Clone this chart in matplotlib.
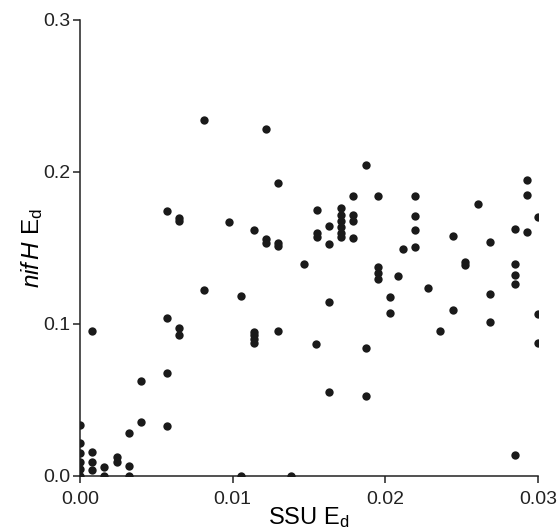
import numpy as np
import matplotlib
matplotlib.use('Agg')
from matplotlib import pyplot as plt

plt.rcParams['font.family'] = ['Liberation Sans', 'DejaVu Sans']
plt.rcParams['mathtext.fontset'] = 'custom'
plt.rcParams['mathtext.rm'] = 'Liberation Sans'
plt.rcParams['mathtext.it'] = 'Liberation Sans:italic'

# SSU E_d (x) and nifH E_d (y)
ssu_ed = [
    0.00811, 0.0122, 0.0130, 0.00568, 0.0065, 0.0065, 0.00975, 0.0155, 0.0114, 0.0122,
    0.0122, 0.0130, 0.0130, 0.0155, 0.0155, 0.01464, 0.00811, 0.01056, 0.01873, 0.02931,
    0.02931, 0.0179, 0.01952, 0.02197, 0.0261,
    0.01707, 0.01707, 0.01707, 0.01707, 0.01707, 0.01707,
    0.0179, 0.0179, 0.01628, 0.0179, 0.02197, 0.02197, 0.02197, 0.01628, 0.02116,
    0.02441, 0.02686, 0.0285, 0.02931, 0.0300, 0.02522, 0.02522,
    0.01952, 0.01952, 0.01952, 0.02083, 0.0285, 0.0285, 0.0285,
    0.02278, 0.02686, 0.02033, 0.01628, 0.02033, 0.02441, 0.02686, 0.02361,
    0.0300, 0.0300, 0.01545, 0.01873, 0.01628, 0.01873, 0.0285,
    0.00568, 0.00079, 0.0065, 0.0065, 0.0114, 0.0114, 0.0114, 0.0114, 0.0130,
    0.00568, 0.00402, 0.00402, 0.00568, 0.00321,
    0.0, 0.0, 0.0, 0.0, 0.0, 0.0, 0.00079, 0.00079, 0.00079, 0.0016, 0.0016,
    0.00243, 0.00243, 0.00321, 0.00321, 0.01056, 0.01382,
]
nifh_ed = [
    0.234, 0.228, 0.193, 0.1745, 0.170, 0.168, 0.167, 0.175, 0.1616, 0.156,
    0.153, 0.153, 0.151, 0.160, 0.157, 0.1397, 0.1224, 0.1184, 0.2044, 0.1947,
    0.1847, 0.1842, 0.1842, 0.1842, 0.1787,
    0.176, 0.172, 0.168, 0.164, 0.160, 0.157,
    0.1717, 0.168, 0.1647, 0.1566, 0.1713, 0.1616, 0.1507, 0.1524, 0.1493,
    0.1579, 0.1542, 0.1627, 0.1605, 0.1704, 0.141, 0.139,
    0.1377, 0.1338, 0.1296, 0.1318, 0.1397, 0.1322, 0.1261,
    0.1239, 0.1199, 0.1178, 0.1147, 0.1075, 0.109, 0.1015, 0.0952,
    0.1064, 0.0873, 0.0866, 0.084, 0.0551, 0.0526, 0.0138,
    0.1037, 0.0954, 0.0971, 0.0928, 0.095, 0.0925, 0.090, 0.0875, 0.0954,
    0.0675, 0.0625, 0.0355, 0.0331, 0.0285,
    0.0336, 0.0215, 0.0149, 0.0094, 0.0044, 0.0, 0.0160, 0.0094, 0.0039, 0.0061, 0.0,
    0.0127, 0.0094, 0.0066, 0.0, 0.0, 0.0,
]

fig = plt.figure(figsize=(5.58, 5.30), dpi=100)
ax = fig.add_axes([80/558, 54/530, 458/558, 456/530])

ax.scatter(ssu_ed, nifh_ed, s=36, color='#1a1a1a', linewidths=0, zorder=3)

ax.set_xlim(0, 0.03)
ax.set_ylim(0, 0.3)
ax.set_xticks([0.0, 0.01, 0.02, 0.03])
ax.set_xticklabels(['0.00', '0.01', '0.02', '0.03'])
ax.set_yticks([0.0, 0.1, 0.2, 0.3])
ax.set_yticklabels(['0.0', '0.1', '0.2', '0.3'])

for s in ['top', 'right']:
    ax.spines[s].set_visible(False)
for s in ['left', 'bottom']:
    ax.spines[s].set_linewidth(1.1)
    ax.spines[s].set_color('#222222')
ax.tick_params(direction='out', length=5, width=1.1, labelsize=14, colors='#222222')
ax.tick_params(axis='x', pad=6)
ax.tick_params(axis='y', pad=2)

ax.set_xlabel(r'SSU E$_\mathregular{d}$', fontsize=17, labelpad=-2.5)
ax.set_ylabel(r'$\mathit{nif\,H}$ E$_\mathregular{d}$', fontsize=17.5, labelpad=-1)

plt.savefig('out.png', dpi=100)
